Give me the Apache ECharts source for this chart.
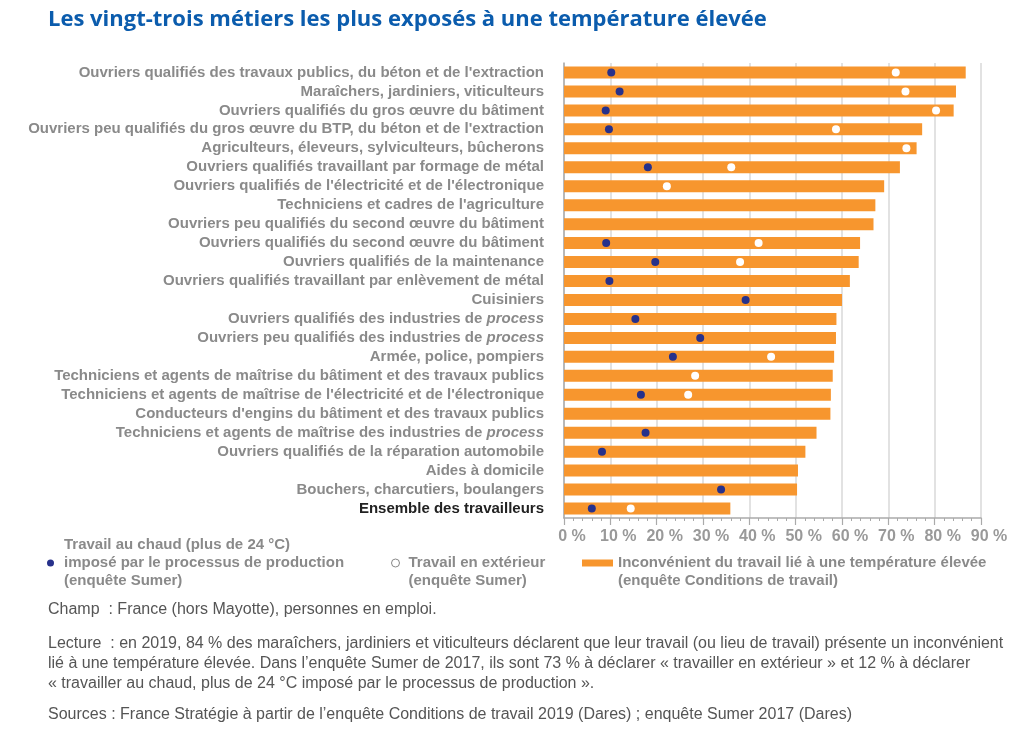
<!DOCTYPE html>
<html>
<head>
<meta charset="utf-8">
<script src="https://cdn.jsdelivr.net/npm/echarts@6/dist/echarts.min.js"></script>
<style>
  html, body { margin: 0; padding: 0; background: #fff; }
  #chart { width: 1024px; height: 736px; }
</style>
</head>
<body>
<div id="chart"></div>
<script>
// metiers, du plus expose au moins expose
var metiers = [
    "Ouvriers qualifiés des travaux publics, du béton et de l'extraction",
    "Maraîchers, jardiniers, viticulteurs",
    "Ouvriers qualifiés du gros œuvre du bâtiment",
    "Ouvriers peu qualifiés du gros œuvre du BTP, du béton et de l'extraction",
    "Agriculteurs, éleveurs, sylviculteurs, bûcherons",
    "Ouvriers qualifiés travaillant par formage de métal",
    "Ouvriers qualifiés de l'électricité et de l'électronique",
    "Techniciens et cadres de l'agriculture",
    "Ouvriers peu qualifiés du second œuvre du bâtiment",
    "Ouvriers qualifiés du second œuvre du bâtiment",
    "Ouvriers qualifiés de la maintenance",
    "Ouvriers qualifiés travaillant par enlèvement de métal",
    "Cuisiniers",
    "Ouvriers qualifiés des industries de process",
    "Ouvriers peu qualifiés des industries de process",
    "Armée, police, pompiers",
    "Techniciens et agents de maîtrise du bâtiment et des travaux publics",
    "Techniciens et agents de maîtrise de l'électricité et de l'électronique",
    "Conducteurs d'engins du bâtiment et des travaux publics",
    "Techniciens et agents de maîtrise des industries de process",
    "Ouvriers qualifiés de la réparation automobile",
    "Aides à domicile",
    "Bouchers, charcutiers, boulangers",
    "Ensemble des travailleurs"
];

// inconvenient lie a une temperature elevee (Conditions de travail 2019)
var inconvenient = [86.7, 84.6, 84.1, 77.3, 76.1, 72.5, 69.1, 67.2, 66.8, 63.9, 63.6, 61.7,
    60.0, 58.8, 58.7, 58.3, 58.0, 57.6, 57.5, 54.5, 52.1, 50.5, 50.3, 35.9];

// travail au chaud impose par le processus de production (Sumer 2017)
var auChaud = [10.2, 12.0, 9.0, 9.7, '-', 18.1, '-', '-', '-', 9.1, 19.7, 9.8,
    39.2, 15.4, 29.4, 23.5, '-', 16.6, '-', 17.6, 8.2, '-', 33.9, 6.0];

// travail en exterieur (Sumer 2017)
var exterieur = [71.6, 73.7, 80.3, 58.7, 73.9, 36.1, 22.2, '-', '-', 42.0, 38.0, '-',
    '-', '-', '-', 44.7, 28.3, 26.8, '-', '-', '-', '-', '-', 14.4];

var xTicks = { min: 0, max: 90, step: 10 };

var chart = echarts.init(document.getElementById('chart'));

var grey = '#8a8a8a';
var orange = '#f7962e';
var navy = '#27318b';
var font = 'Liberation Sans';

function labelFmt(v) {
    if (v === 'Ensemble des travailleurs') return '{k|' + v + '}';
    var i = v.indexOf(' process');
    if (i > 0 && v.slice(-7) === 'process') return '{a|' + v.slice(0, i + 1) + '}{i|process}';
    return '{a|' + v + '}';
}

var legendNames = {
    'chaud': 'Travail au chaud (plus de 24 °C)\nimposé par le processus de production\n(enquête Sumer)',
    'ext': '\nTravail en extérieur\n(enquête Sumer)',
    'inc': '\nInconvénient du travail lié à une température élevée\n(enquête Conditions de travail)'
};
function legendText(pad) {
    return {
        color: grey, fontFamily: font, fontWeight: 'bold', fontSize: 15, lineHeight: 18,
        padding: [0, 0, 0, pad]
    };
}
function legendFmt(n) { return legendNames[n]; }

var footStyle = { fill: '#555', font: '16px "Liberation Sans"' };
var notes = [
    ['Champ  : France (hors Mayotte), personnes en emploi.', 611],
    ['Lecture  : en 2019, 84 % des maraîchers, jardiniers et viticulteurs déclarent que leur travail (ou lieu de travail) présente un inconvénient', 645],
    ['lié à une température élevée. Dans l\u2019enquête Sumer de 2017, ils sont 73 % à déclarer « travailler en extérieur » et 12 % à déclarer', 665],
    ['« travailler au chaud, plus de 24 °C imposé par le processus de production ».', 685],
    ['Sources : France Stratégie à partir de l\u2019enquête Conditions de travail 2019 (Dares) ; enquête Sumer 2017 (Dares)', 716]
];

var option = {
    animation: false,
    backgroundColor: '#fff',
    textStyle: { fontFamily: font },
    title: {
        text: 'Les vingt-trois métiers les plus exposés à une température élevée',
        left: 48,
        top: 9,
        padding: 0,
        textStyle: { color: '#0b5cad', fontFamily: 'Open Sans', fontWeight: 'bold', fontSize: 22 }
    },
    legend: [
        {
            data: ['chaud'], left: 47, top: 536, padding: 0, icon: 'circle', itemWidth: 7, itemHeight: 7,
            formatter: legendFmt, textStyle: legendText(5)
        },
        {
            data: ['ext'], left: 391, top: 536, padding: 0, icon: 'circle', itemWidth: 8, itemHeight: 8,
            itemStyle: { color: '#fff', borderColor: '#888', borderWidth: 1 },
            formatter: legendFmt, textStyle: legendText(4)
        },
        {
            data: ['inc'], left: 582, top: 536, padding: 0, icon: 'rect', itemWidth: 31, itemHeight: 7,
            formatter: legendFmt, textStyle: legendText(0)
        }
    ],
    grid: { left: 564, right: 43, top: 63, bottom: 218 },
    xAxis: {
        type: 'value',
        min: xTicks.min,
        max: xTicks.max,
        interval: xTicks.step,
        axisLine: { show: true, lineStyle: { color: '#aaa', width: 1.5 } },
        axisTick: { show: true, length: 7, lineStyle: { color: '#aaa', width: 1.2 } },
        minorTick: { show: true, splitNumber: 5, length: 3, lineStyle: { color: '#aaa' } },
        splitLine: { show: true, lineStyle: { color: '#d9d9d9', width: 1.5 } },
        axisLabel: {
            formatter: '{value} %', color: '#999', fontWeight: 'bold', fontSize: 16,
            fontFamily: font, margin: 11, padding: [0, 0, 0, 16]
        }
    },
    yAxis: {
        type: 'category',
        inverse: true,
        data: metiers,
        axisLine: { show: true, lineStyle: { color: '#aaa', width: 1.5 } },
        axisTick: { show: false },
        splitLine: { show: false },
        axisLabel: {
            margin: 20,
            formatter: labelFmt,
            rich: {
                a: { color: grey, fontWeight: 'bold', fontSize: 15, fontFamily: font },
                i: { color: grey, fontWeight: 'bold', fontStyle: 'italic', fontSize: 15, fontFamily: font },
                k: { color: '#222', fontWeight: 'bold', fontSize: 15, fontFamily: font }
            }
        }
    },
    series: [
        {
            name: 'inc',
            type: 'bar',
            data: inconvenient,
            barWidth: 12,
            itemStyle: { color: orange },
            z: 2
        },
        {
            name: 'chaud',
            type: 'scatter',
            data: auChaud,
            symbol: 'circle',
            symbolSize: 8,
            itemStyle: { color: navy, opacity: 1 },
            z: 4
        },
        {
            name: 'ext',
            type: 'scatter',
            data: exterieur,
            symbol: 'circle',
            symbolSize: 8,
            itemStyle: { color: '#fff', opacity: 1 },
            z: 4
        }
    ],
    graphic: notes.map(function (n) {
        return {
            type: 'text', left: 48, top: n[1] - 9,
            style: { text: n[0], fill: footStyle.fill, font: footStyle.font }
        };
    })
};

chart.setOption(option);
</script>
</body>
</html>
